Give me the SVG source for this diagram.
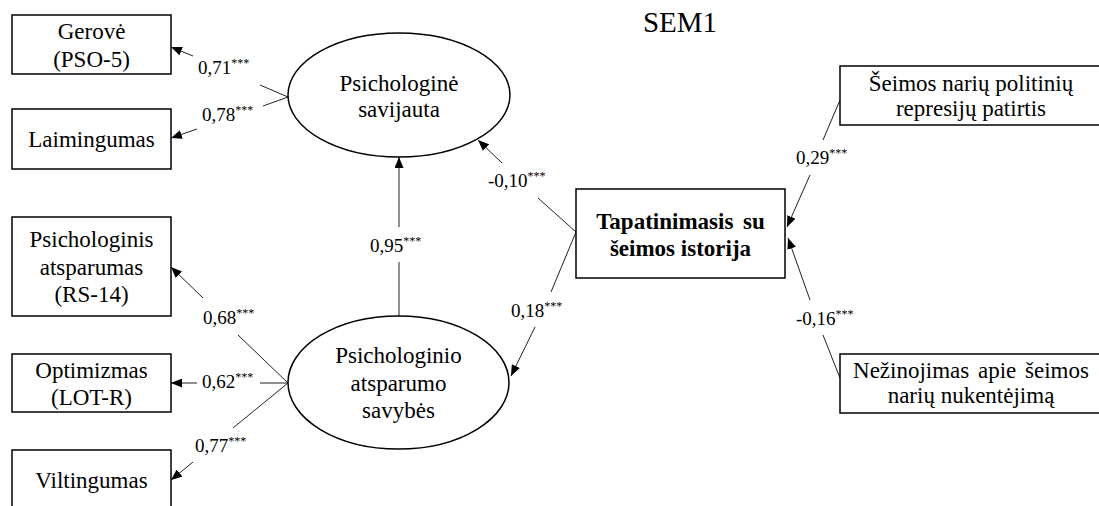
<svg xmlns="http://www.w3.org/2000/svg" width="1099" height="506" viewBox="0 0 1099 506">
<style>
text{font-family:"Liberation Serif","Times New Roman",serif;fill:#000}
.n{font-size:23px;text-anchor:middle}
.b{font-weight:bold}
.lb{font-size:19px}
.st{font-size:12px}
.box{fill:#fff;stroke:#000;stroke-width:1.5}
.ell{fill:#fff;stroke:#000;stroke-width:1.5}
.c{fill:none;stroke:#222;stroke-width:1;marker-end:url(#ah)}
</style>
<defs>
<marker id="ah" markerUnits="userSpaceOnUse" markerWidth="11" markerHeight="9" refX="11" refY="4.5" orient="auto">
<path d="M0,0 L11,4.5 L0,9 z" fill="#000"/>
</marker>
</defs>
<rect width="1099" height="506" fill="#fff"/>
<text x="680" y="32" style="font-size:29px;text-anchor:middle">SEM1</text>

<g id="connectors">
<path class="c" d="M288,97 L260,85 M193,56 L171,47"/>
<path class="c" d="M288,97 L263,106 M197,129 L171,138"/>
<path class="c" d="M288,383 L238,335 M203,298 L171,267"/>
<path class="c" d="M288,383 L260,383 M197,383 L171,383"/>
<path class="c" d="M288,383 L233,428 M193,462 L171,480"/>
<path class="c" d="M399,316 L399,262 M399,227 L399,157"/>
<path class="c" d="M576,232 L538,198 M502,163 L478,140"/>
<path class="c" d="M576,232 L551,292 M535,327 L511,376"/>
<path class="c" d="M840,100 L823,140 M810,175 L787,227"/>
<path class="c" d="M840,378 L823,335 M810,300 L788,238"/>
</g>

<g id="labels">
<text x="198" y="74" class="lb">0,71<tspan class="st" dy="-7">***</tspan></text>
<text x="202" y="121" class="lb">0,78<tspan class="st" dy="-7">***</tspan></text>
<text x="203" y="324" class="lb">0,68<tspan class="st" dy="-7">***</tspan></text>
<text x="202" y="388" class="lb">0,62<tspan class="st" dy="-7">***</tspan></text>
<text x="195" y="452" class="lb">0,77<tspan class="st" dy="-7">***</tspan></text>
<text x="370" y="252" class="lb">0,95<tspan class="st" dy="-7">***</tspan></text>
<text x="488" y="187" class="lb">-0,10<tspan class="st" dy="-7">***</tspan></text>
<text x="511" y="317" class="lb">0,18<tspan class="st" dy="-7">***</tspan></text>
<text x="796" y="164" class="lb">0,29<tspan class="st" dy="-7">***</tspan></text>
<text x="796" y="325" class="lb">-0,16<tspan class="st" dy="-7">***</tspan></text>
</g>

<g id="gerove">
<rect class="box" x="12" y="15" width="159" height="59"/>
<text class="n" x="91.5" y="39">Gerovė</text>
<text class="n" x="91.5" y="67">(PSO-5)</text>
</g>
<g id="laimingumas">
<rect class="box" x="12" y="109" width="159" height="60"/>
<text class="n" x="91.5" y="147">Laimingumas</text>
</g>
<g id="psich-atsparumas">
<rect class="box" x="12" y="217" width="159" height="99"/>
<text class="n" x="91.5" y="247">Psichologinis</text>
<text class="n" x="91.5" y="275">atsparumas</text>
<text class="n" x="91.5" y="302">(RS-14)</text>
</g>
<g id="optimizmas">
<rect class="box" x="12" y="354" width="159" height="58"/>
<text class="n" x="91.5" y="378">Optimizmas</text>
<text class="n" x="91.5" y="405">(LOT-R)</text>
</g>
<g id="viltingumas">
<rect class="box" x="12" y="450" width="159" height="70"/>
<text class="n" x="91.5" y="488">Viltingumas</text>
</g>

<g id="psich-savijauta">
<ellipse class="ell" cx="399" cy="95" rx="111" ry="62"/>
<text class="n" x="399" y="91">Psichologinė</text>
<text class="n" x="399" y="117">savijauta</text>
</g>
<g id="atsparumo-savybes">
<ellipse class="ell" cx="398.5" cy="382.5" rx="110.5" ry="66.5"/>
<text class="n" x="398.5" y="363">Psichologinio</text>
<text class="n" x="398.5" y="391">atsparumo</text>
<text class="n" x="398.5" y="418">savybės</text>
</g>

<g id="tapatinimasis">
<rect class="box" x="576" y="189" width="209" height="89"/>
<text class="n b" x="680.5" y="229" style="word-spacing:4px">Tapatinimasis su</text>
<text class="n b" x="680.5" y="256">šeimos istorija</text>
</g>

<g id="represijos">
<rect class="box" x="840" y="66" width="300" height="59"/>
<text class="n" x="971" y="91">Šeimos narių politinių</text>
<text class="n" x="971" y="116">represijų patirtis</text>
</g>
<g id="nezinojimas">
<rect class="box" x="840" y="354" width="300" height="59"/>
<text class="n" x="971" y="378" style="word-spacing:3px">Nežinojimas apie šeimos</text>
<text class="n" x="971" y="403">narių nukentėjimą</text>
</g>
</svg>
